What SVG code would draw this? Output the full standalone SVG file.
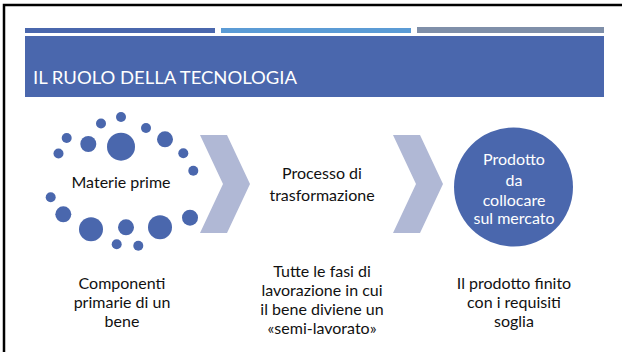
<svg xmlns="http://www.w3.org/2000/svg" width="622" height="352" viewBox="0 0 622 352">
<style>
.t{font-family:Lato,"Open Sans","DejaVu Sans",sans-serif;font-size:16px;fill:#111;text-anchor:middle}
.w{fill:#fff}
.dot{fill:#4A67AD}
.chev{fill:#B0B8D5}
</style>
<rect width="622" height="352" fill="#fff"/>
<path d="M4,352 V5 H622" fill="none" stroke="#000" stroke-width="2.5"/>
<g id="header">
<rect x="25" y="28" width="190" height="5" fill="#4A67AD"/>
<rect x="221" y="28" width="190" height="5" fill="#5B9BD5"/>
<rect x="417" y="27" width="187" height="6" fill="#7F8FA9"/>
<rect x="25" y="36" width="579" height="61" fill="#4A67AD"/>
<text x="33" y="84" font-family="Lato,'Open Sans',sans-serif" font-size="16.5" fill="#fff" textLength="264" lengthAdjust="spacingAndGlyphs">IL RUOLO DELLA TECNOLOGIA</text>
</g>
<g id="materie">
<circle class="dot" cx="121" cy="117" r="5"/>
<circle class="dot" cx="101" cy="123.5" r="5"/>
<circle class="dot" cx="146" cy="128" r="5"/>
<circle class="dot" cx="66.7" cy="138" r="5"/>
<circle class="dot" cx="88.3" cy="144" r="8"/>
<circle class="dot" cx="121" cy="146.7" r="14"/>
<circle class="dot" cx="165" cy="139.3" r="8"/>
<circle class="dot" cx="58.5" cy="153.5" r="5"/>
<circle class="dot" cx="183.3" cy="153.3" r="5"/>
<circle class="dot" cx="193.3" cy="170.7" r="5"/>
<circle class="dot" cx="50.7" cy="197.3" r="5"/>
<circle class="dot" cx="63.3" cy="214.3" r="8"/>
<circle class="dot" cx="91" cy="229.3" r="12"/>
<circle class="dot" cx="126" cy="227.3" r="8"/>
<circle class="dot" cx="160" cy="227.3" r="12"/>
<circle class="dot" cx="190" cy="217.7" r="8"/>
<circle class="dot" cx="116.7" cy="244.3" r="5"/>
<circle class="dot" cx="138.3" cy="245.7" r="5"/>
<text class="t" x="121" y="188">Materie prime</text>
</g>
<g id="connectors">
<polygon class="chev" points="200,135 227,135 250,184 227,233 200,233 223,184"/>
<polygon class="chev" points="393,135 420,135 443,184 420,233 393,233 416,184"/>
</g>
<g id="processo">
<text class="t" x="322" y="179">Processo di</text>
<text class="t" x="322" y="201">trasformazione</text>
</g>
<g id="prodotto">
<circle cx="513.5" cy="187" r="59.5" fill="#4A67AD"/>
<text class="t w" x="514" y="165">Prodotto</text>
<text class="t w" x="514" y="186">da</text>
<text class="t w" x="514" y="206">collocare</text>
<text class="t w" x="514" y="224">sul mercato</text>
</g>
<g id="desc1">
<text class="t" x="122" y="289">Componenti</text>
<text class="t" x="122" y="308">primarie di un</text>
<text class="t" x="122" y="327">bene</text>
</g>
<g id="desc2">
<text class="t" x="322" y="277">Tutte le fasi di</text>
<text class="t" x="322" y="296">lavorazione in cui</text>
<text class="t" x="322" y="315">il bene diviene un</text>
<text class="t" x="322" y="334">«semi-lavorato»</text>
</g>
<g id="desc3">
<text class="t" x="514" y="289">Il prodotto finito</text>
<text class="t" x="514" y="308">con i requisiti</text>
<text class="t" x="514" y="327">soglia</text>
</g>
</svg>
